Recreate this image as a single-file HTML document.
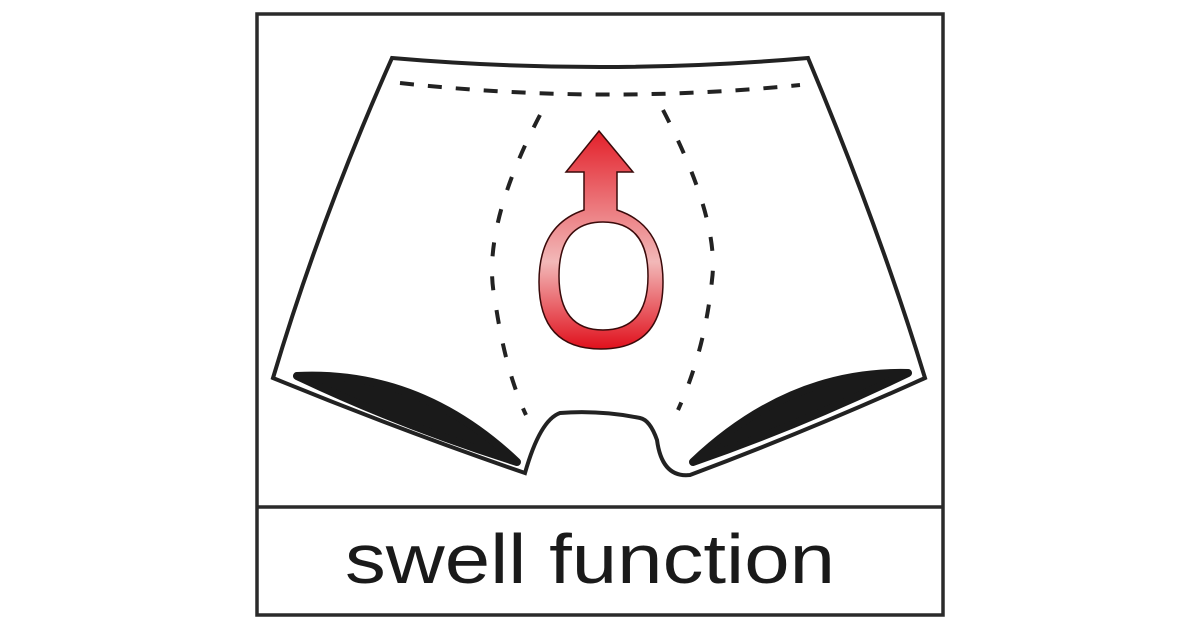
<!DOCTYPE html>
<html><head><style>html,body{margin:0;padding:0;background:#fff;width:1200px;height:630px;overflow:hidden}</style></head>
<body>
<svg width="1200" height="630" viewBox="0 0 1200 630" xmlns="http://www.w3.org/2000/svg">
<defs>
<linearGradient id="g" x1="0" y1="0" x2="0" y2="1">
<stop offset="0" stop-color="#e3202a"/>
<stop offset="0.6" stop-color="#f2b8b8"/>
<stop offset="1" stop-color="#e0101c"/>
</linearGradient>
</defs>
<rect x="257" y="14" width="686" height="601" fill="none" stroke="#2a2a2a" stroke-width="3.5"/>
<line x1="257" y1="507" x2="943" y2="507" stroke="#2a2a2a" stroke-width="3.5"/>
<text x="345" y="583" textLength="490" lengthAdjust="spacingAndGlyphs" font-family="Liberation Sans, sans-serif" font-size="70" fill="#1a1a1a">swell function</text>
<!-- pants outline -->
<path d="M392,58 Q600,76 808,58 Q880,230 925,378 Q810,430 690,475 Q662,478 657,440 Q650,420 640,418 Q600,410 560,413 Q540,420 525,473 Q400,430 273,378 Q320,220 392,58 Z" fill="#fff" stroke="#222" stroke-width="4" stroke-linejoin="miter"/>
<!-- dashed lines -->
<path d="M400,83 Q600,105 800,85" fill="none" stroke="#222" stroke-width="4" stroke-dasharray="14,14"/>
<path d="M540,115 Q480,230 495,300 Q505,370 526,415" fill="none" stroke="#222" stroke-width="4" stroke-dasharray="14,20"/>
<path d="M663,110 Q720,220 712,280 Q705,350 678,410" fill="none" stroke="#222" stroke-width="4" stroke-dasharray="14,20"/>
<!-- black leg shapes -->
<path d="M297,376 Q420,370 517,462 Q400,425 297,376 Z" fill="#1a1a1a" stroke="#1a1a1a" stroke-width="8" stroke-linejoin="round"/>
<path d="M908,373 Q790,370 693,462 Q800,425 908,373 Z" fill="#1a1a1a" stroke="#1a1a1a" stroke-width="8" stroke-linejoin="round"/>
<!-- male symbol -->
<path fill-rule="evenodd" d="M599,131 L633,172 L617,172 L617,210 Q663,225 663,282 Q663,349 601,349 Q539,349 539,282 Q539,225 584,210 L584,172 L566,172 Z M603,222 Q559,222 559,276 Q559,330 603,330 Q648,330 648,276 Q648,222 603,222 Z" fill="url(#g)" stroke="#3a0a0a" stroke-width="1.5"/>
</svg>
</body></html>
